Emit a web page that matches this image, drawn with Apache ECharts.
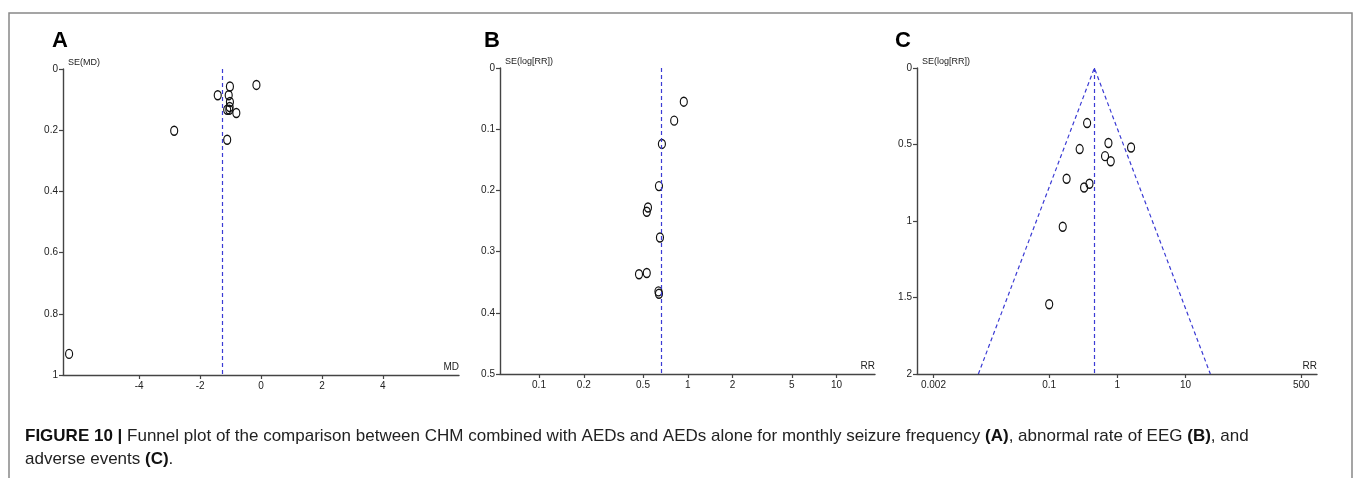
<!DOCTYPE html>
<html>
<head>
<meta charset="utf-8">
<script src="https://cdn.jsdelivr.net/npm/echarts@6/dist/echarts.min.js"></script>
<style>
  body { margin: 0; background: #fff; }
  #main { width: 1357px; height: 478px; }
</style>
</head>
<body>
<div id="main"></div>
<script>
// panel A: mean difference vs SE(MD)
var mdA = [-0.15, -1.02, -1.42, -1.06, -1.02, -1.03, -1.11, -1.04, -0.81, -2.85, -1.11, -6.30]
var seA = [0.052, 0.057, 0.086, 0.086, 0.108, 0.124, 0.133, 0.133, 0.144, 0.202, 0.231, 0.931]
var pooledA = -1.26
var ticksA = [-4, -2, 0, 2, 4]

// panel B: risk ratio vs SE(log[RR])
var rrB = [0.94, 0.81, 0.67, 0.64, 0.54, 0.53, 0.65, 0.53, 0.47, 0.635, 0.64]
var seB = [0.055, 0.086, 0.124, 0.193, 0.228, 0.235, 0.277, 0.335, 0.337, 0.365, 0.369]
var pooledB = 0.665
var ticksB = [0.1, 0.2, 0.5, 1, 2, 5, 10]

// panel C: risk ratio vs SE(log[RR]), with 95% funnel
var rrC = [0.36, 0.74, 1.59, 0.28, 0.66, 0.80, 0.18, 0.39, 0.325, 0.158, 0.10]
var seC = [0.36, 0.49, 0.52, 0.53, 0.576, 0.609, 0.724, 0.757, 0.781, 1.038, 1.544]
var pooledC = 0.46
var funnelSeC = [0, 2]
var ticksC = [0.002, 0.1, 1, 10, 500]

var FONT = '"Liberation Sans", Arial, sans-serif'
var AXIS = '#444'
var DASH = '#3b3bd4'

var chartDom = document.getElementById('main');
var myChart = echarts.init(chartDom);

function pts(xs, ys, logx) {
    return xs.map(function (x, i) { return [logx ? Math.log10(x) : x, ys[i]] })
}

function tickFmt(ticks, logx) {
    return function (v) {
        for (var i = 0; i < ticks.length; i++) {
            var t = logx ? Math.log10(ticks[i]) : ticks[i]
            if (Math.abs(t - v) < 1e-6) return String(ticks[i])
        }
        return ''
    }
}

function xAxisOf(idx, min, max, ticks, logx, name) {
    var vals = ticks.map(function (t) { return logx ? Math.log10(t) : t })
    return {
        gridIndex: idx, type: 'value', min: min, max: max,
        name: name, nameLocation: 'end', nameGap: 0,
        nameTextStyle: { fontFamily: FONT, fontSize: 10, color: '#222', align: 'right', verticalAlign: 'bottom', padding: [0, 0, 3, 0] },
        axisLine: { onZero: false, lineStyle: { color: AXIS, width: 1.4 } },
        axisTick: { show: true, length: 4, customValues: vals, lineStyle: { color: AXIS, width: 1.2 } },
        axisLabel: { customValues: vals, formatter: tickFmt(ticks, logx), fontFamily: FONT, fontSize: 10, color: '#222', margin: 6 },
        splitLine: { show: false }
    }
}

function yAxisOf(idx, max, interval, name) {
    return {
        gridIndex: idx, type: 'value', inverse: true, min: 0, max: max, interval: interval,
        name: name, nameLocation: 'start', nameGap: 2,
        nameTextStyle: { fontFamily: FONT, fontSize: 9, color: '#222', align: 'left', verticalAlign: 'bottom', padding: [0, 0, 0, 5] },
        axisLine: { onZero: false, lineStyle: { color: AXIS, width: 1.4 } },
        axisTick: { show: true, length: 4, lineStyle: { color: AXIS, width: 1.2 } },
        axisLabel: { fontFamily: FONT, fontSize: 10, color: '#222', margin: 5 },
        splitLine: { show: false }
    }
}

function scatterOf(idx, data, pooled) {
    return {
        type: 'scatter', xAxisIndex: idx, yAxisIndex: idx, data: data,
        symbol: 'circle', symbolSize: [7, 9],
        itemStyle: { color: 'rgba(0,0,0,0)', borderColor: '#111', borderWidth: 1.3, opacity: 1 },
        markLine: {
            silent: true, symbol: 'none', label: { show: false },
            lineStyle: { color: DASH, width: 1.2, type: [4, 3] },
            data: [{ xAxis: pooled }]
        },
        z: 3
    }
}

// funnel limits for panel C, in log10 units
var cLog = Math.log10(pooledC)
var half = funnelSeC.map(function (s) { return 1.96 * s / Math.LN10 })
var funnelC = [
    [cLog - half[1], funnelSeC[1]],
    [cLog - half[0], funnelSeC[0]],
    [cLog + half[1], funnelSeC[1]]
]

var option = {
    animation: false,
    backgroundColor: '#fff',
    title: {
        left: 20, top: 420,
        text: '{b|FIGURE 10 |} Funnel plot of the comparison between CHM combined with AEDs and AEDs alone for monthly seizure frequency {b|(A)}, abnormal rate of EEG {b|(B)}, and\nadverse events {b|(C)}.',
        textStyle: {
            fontFamily: FONT, fontSize: 17, fontWeight: 'normal', color: '#222', lineHeight: 23,
            rich: { b: { fontFamily: FONT, fontSize: 17, fontWeight: 'bold', color: '#111', lineHeight: 23 } }
        }
    },
    graphic: [
        { type: 'rect', shape: { x: 9, y: 13, width: 1343, height: 480 }, style: { fill: 'none', stroke: '#888', lineWidth: 1.5 }, silent: true },
        { type: 'text', left: 52, top: 30, style: { text: 'A', font: 'bold 22px ' + FONT, fill: '#000' } },
        { type: 'text', left: 484, top: 30, style: { text: 'B', font: 'bold 22px ' + FONT, fill: '#000' } },
        { type: 'text', left: 895, top: 30, style: { text: 'C', font: 'bold 22px ' + FONT, fill: '#000' } }
    ],
    grid: [
        { left: 63, top: 69, width: 396, height: 306 },
        { left: 500, top: 68, width: 375, height: 306 },
        { left: 917, top: 68, width: 400, height: 306 }
    ],
    xAxis: [
        xAxisOf(0, -6.5, 6.5, ticksA, false, 'MD'),
        xAxisOf(1, -1.262, 1.258, ticksB, true, 'RR'),
        xAxisOf(2, -2.94, 2.93, ticksC, true, 'RR')
    ],
    yAxis: [
        yAxisOf(0, 1, 0.2, 'SE(MD)'),
        yAxisOf(1, 0.5, 0.1, 'SE(log[RR])'),
        yAxisOf(2, 2, 0.5, 'SE(log[RR])')
    ],
    series: [
        scatterOf(0, pts(mdA, seA, false), pooledA),
        scatterOf(1, pts(rrB, seB, true), Math.log10(pooledB)),
        scatterOf(2, pts(rrC, seC, true), cLog),
        {
            type: 'line', xAxisIndex: 2, yAxisIndex: 2, data: funnelC,
            symbol: 'none', silent: true,
            lineStyle: { color: DASH, width: 1.2, type: [4, 3] },
            z: 2
        }
    ]
};
myChart.setOption(option);
</script>
</body>
</html>
